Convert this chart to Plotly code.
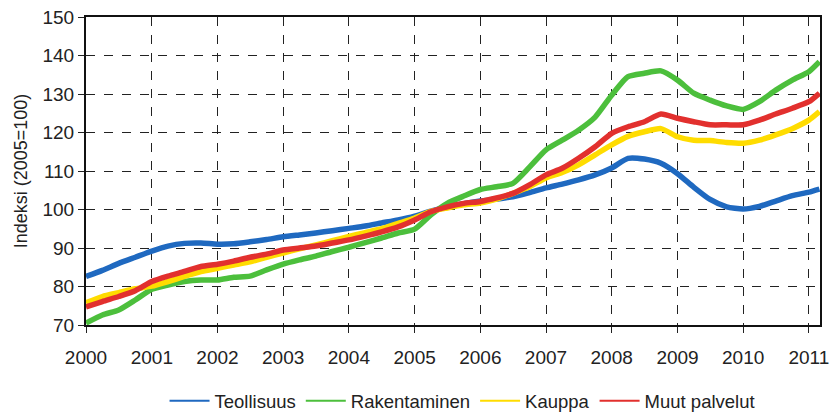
import plotly.graph_objects as go

# quarterly readings, Jan 2000 .. Jan 2011, plus last point Mar 2011
dates = [f"{y}-{m:02d}-01" for y in range(2000, 2011) for m in (1, 4, 7, 10)] + ["2011-01-01", "2011-03-01"]

teollisuus = [
    82.6, 84.2, 86.0, 87.6, 89.2, 90.5, 91.2, 91.3, 91.0, 91.1, 91.6, 92.2,
    92.9, 93.4, 93.9, 94.5, 95.1, 95.7, 96.5, 97.3, 98.3, 99.6, 100.6, 101.5,
    102.2, 102.7, 103.3, 104.4, 105.6, 106.6, 107.7, 109.0, 110.8, 113.3, 113.1, 112.0,
    109.3, 105.8, 102.6, 100.7, 100.1, 100.8, 102.2, 103.6, 104.5, 105.3,
]
rakentaminen = [
    70.5, 72.6, 73.9, 76.5, 79.3, 80.4, 81.3, 81.7, 81.7, 82.4, 82.7, 84.3,
    85.8, 86.9, 87.9, 89.1, 90.2, 91.4, 92.6, 93.9, 94.9, 98.6, 101.6, 103.5,
    105.2, 105.9, 106.8, 111.0, 115.5, 118.0, 120.6, 124.0, 129.7, 134.5, 135.4, 136.0,
    133.6, 130.2, 128.4, 126.9, 126.0, 128.0, 131.0, 133.6, 135.8, 138.4,
]
kauppa = [
    75.8, 77.4, 78.4, 79.4, 80.1, 81.3, 82.6, 83.9, 84.7, 85.6, 86.4, 87.6,
    88.7, 89.8, 90.8, 91.9, 93.0, 94.0, 95.0, 96.4, 97.8, 99.5, 100.4, 101.2,
    101.7, 102.7, 104.2, 105.9, 108.2, 109.6, 111.6, 114.2, 116.8, 119.0, 120.2, 121.0,
    118.9, 118.0, 117.9, 117.4, 117.2, 118.0, 119.4, 121.0, 123.2, 125.4,
]
muut_palvelut = [
    74.7, 76.1, 77.4, 78.9, 81.3, 82.7, 83.9, 85.2, 85.8, 86.6, 87.6, 88.4,
    89.5, 90.0, 90.5, 91.3, 92.1, 93.1, 94.2, 95.5, 97.3, 99.4, 100.7, 101.6,
    102.1, 103.0, 104.2, 106.4, 109.0, 110.7, 113.3, 116.3, 119.8, 121.5, 122.8, 124.8,
    123.7, 122.8, 122.0, 122.0, 122.0, 123.2, 124.8, 126.3, 128.0, 130.2,
]

series = [
    ("Teollisuus", teollisuus, "#1f69c0"),
    ("Rakentaminen", rakentaminen, "#4cbf3c"),
    ("Kauppa", kauppa, "#ffdc00"),
    ("Muut palvelut", muut_palvelut, "#e2302e"),
]

fig = go.Figure()
for name, vals, col in series:
    fig.add_trace(go.Scatter(
        x=dates, y=vals, mode="lines", name=name,
        line=dict(color=col, width=5.5, shape="spline", smoothing=0.6),
        showlegend=False,
    ))
# thin lines for the legend only
for name, vals, col in series:
    fig.add_trace(go.Scatter(
        x=[None], y=[None], mode="lines", name=name,
        line=dict(color=col, width=2),
    ))

font = "Liberation Sans, Arial, sans-serif"
fig.update_layout(
    width=834, height=418,
    margin=dict(l=86, r=14, t=17, b=93, autoexpand=False),
    paper_bgcolor="white", plot_bgcolor="white",
    font=dict(family=font, size=19, color="#222"),
    showlegend=True,
    legend=dict(
        orientation="h", x=0.513, xanchor="center",
        yref="container", y=0.04, yanchor="middle",
        font=dict(size=18.5), itemwidth=40, tracegroupgap=0,
    ),
)
fig.update_xaxes(
    type="date", range=["2000-01-01", "2011-03-04"],
    dtick="M12", tick0="2000-01-01", tickformat="%Y",
    showgrid=True, gridcolor="#222", griddash="dash", gridwidth=1,
    showline=True, linecolor="#111", linewidth=2, mirror=True,
    ticks="outside", ticklen=6, tickcolor="#222", ticklabelstandoff=8,
    zeroline=False,
)
fig.update_yaxes(
    range=[70, 150], dtick=10,
    title=dict(text="Indeksi (2005=100)", font=dict(size=18), standoff=10),
    showgrid=True, gridcolor="#222", griddash="dash", gridwidth=1,
    showline=True, linecolor="#111", linewidth=2, mirror=True,
    ticks="outside", ticklen=6, tickcolor="#222",
    zeroline=False,
)

fig.write_html(
    "out.html",
    config={"displayModeBar": False},
    post_script="document.body.style.margin='0';",
)
